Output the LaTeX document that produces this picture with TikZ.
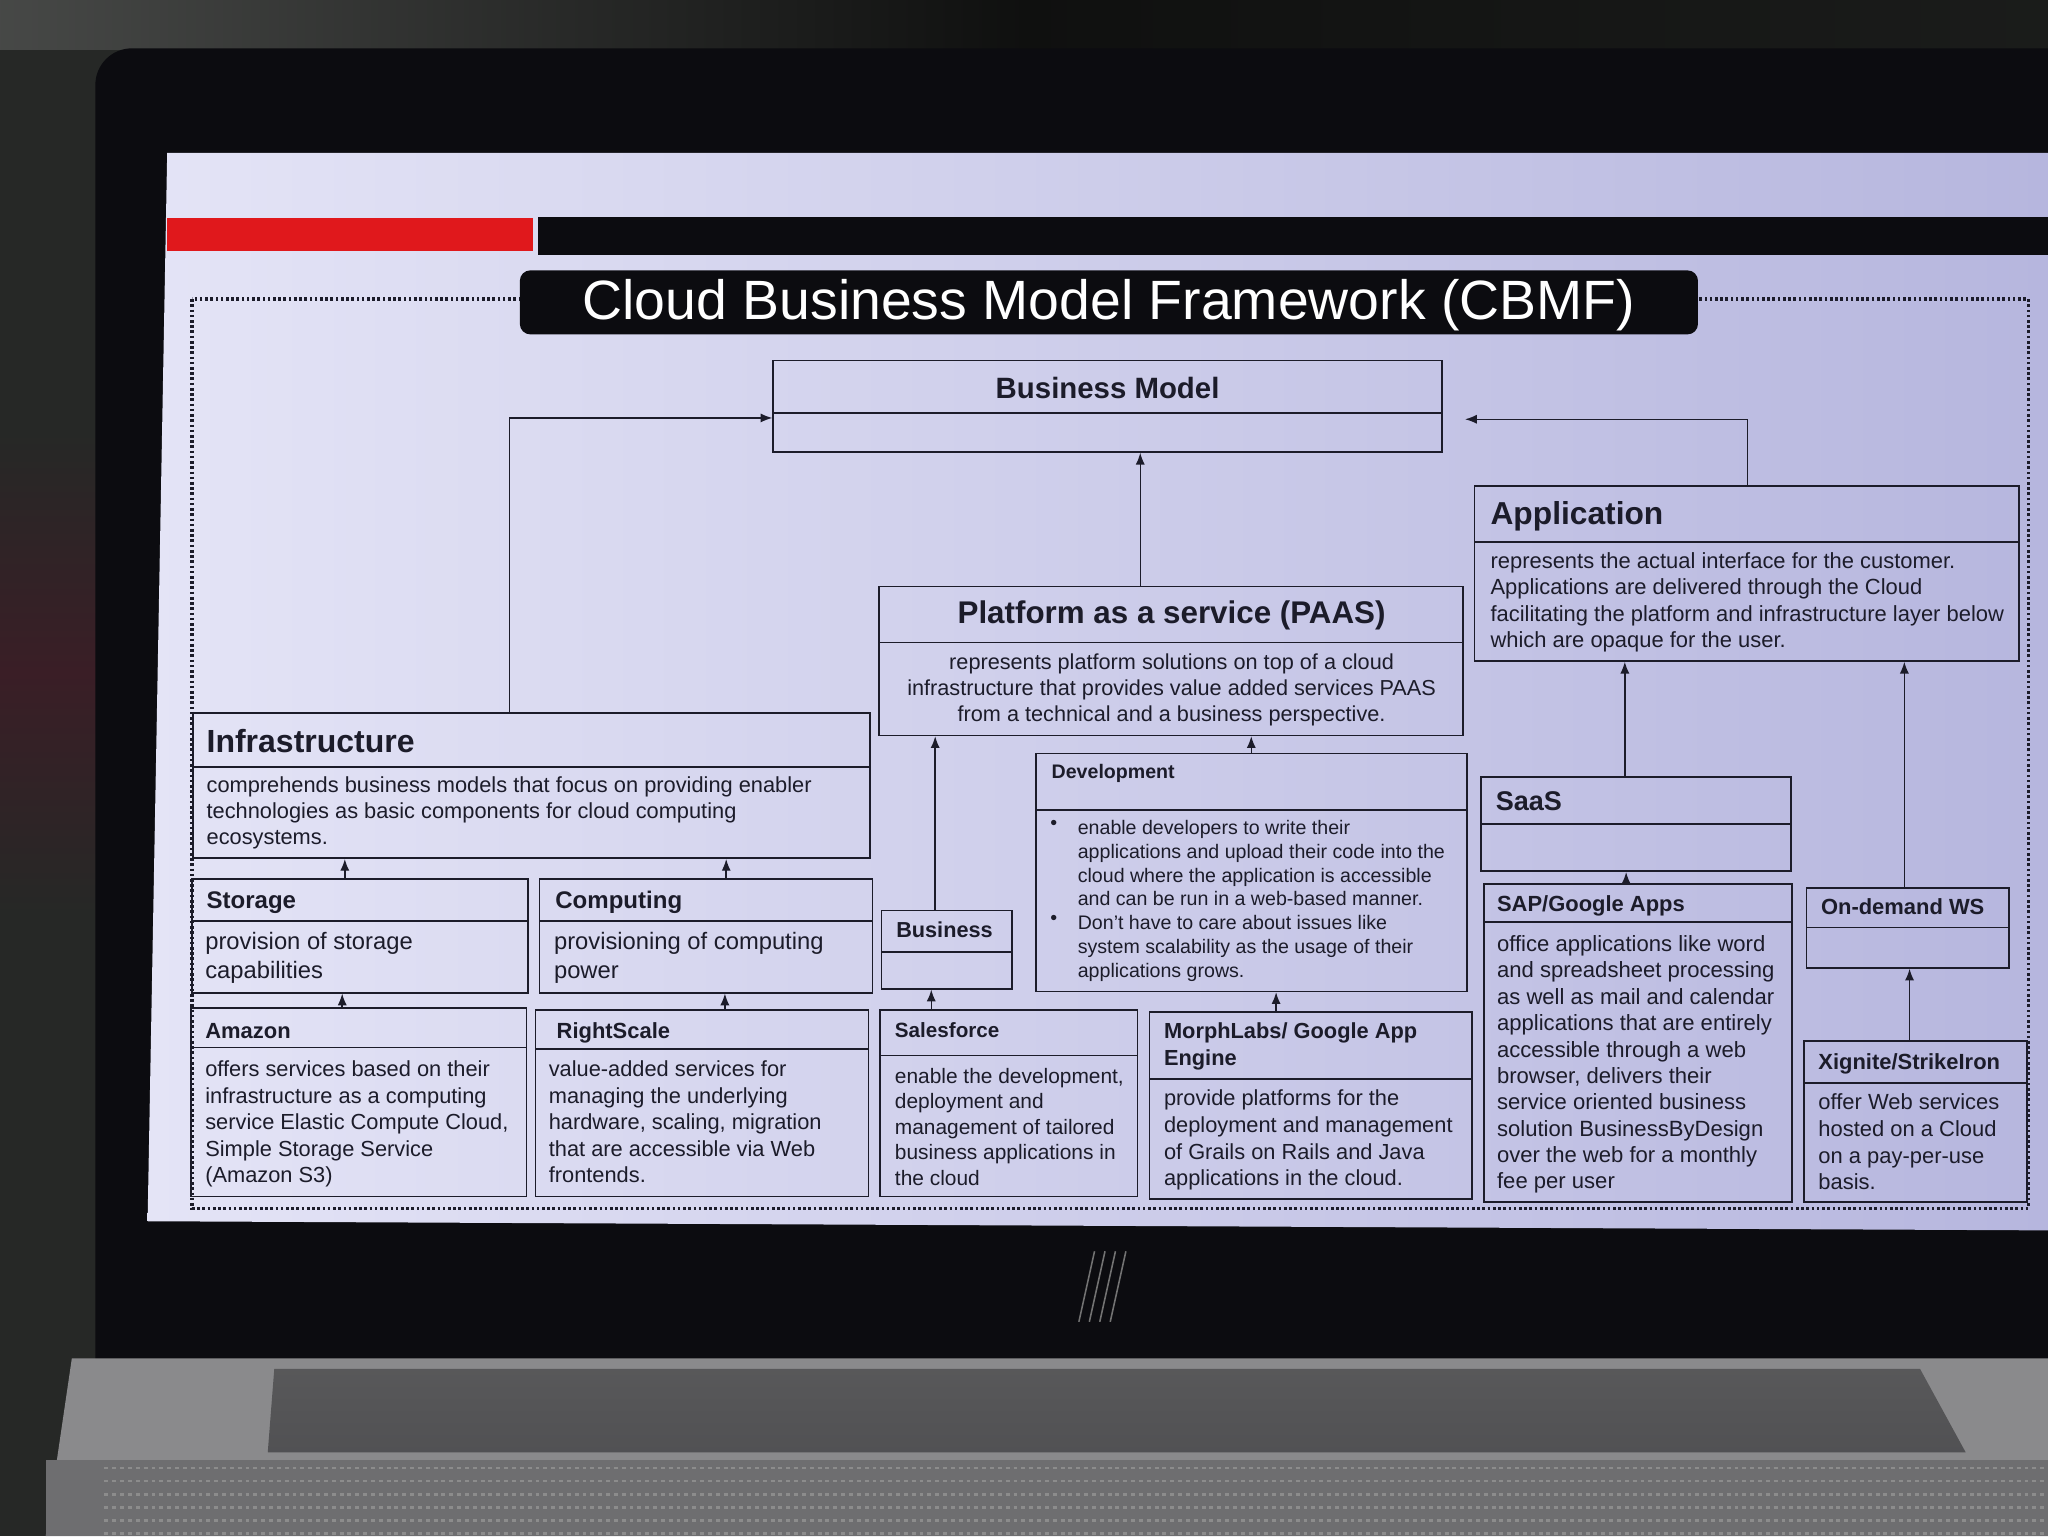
\documentclass[tikz,border=0pt]{standalone}
\usepackage{fontspec}
\setmainfont{Liberation Sans}
\usetikzlibrary{arrows.meta}

\definecolor{ink}{HTML}{1C1C2A}
\definecolor{bezel}{HTML}{0C0C10}
\definecolor{room}{HTML}{262826}
\definecolor{slidered}{HTML}{E0181C}
\definecolor{basegray}{HTML}{8A8A8C}
\definecolor{hingegray}{HTML}{6E6E70}

% box with a title part and a body part
\newcommand{\classbox}[6]{%
  \node[umlbox, minimum width={(#4-#2)*1pt}, minimum height={(#5-#3)*1pt}] (#1) at ({(#2+#4)/2},{(#3+#5)/2}) {};
  \draw[umlbox] (#2,#6) -- (#4,#6);
}

\begin{document}
\begin{tikzpicture}[x=1pt, y=-1pt,
    umlbox/.style={draw=ink, line width=1.3pt, inner sep=0pt},
    ttl/.style={font=\bfseries\fontsize{#1}{#1}\selectfont, text=ink, inner sep=0pt, anchor=base west, yshift={-0.36*#1*1pt}},
    ttlc/.style={ttl=#1, anchor=base},
    txt/.style args={#1/#2}{font=\fontsize{#1}{#2}\selectfont, text=ink, inner sep=0pt, align=left, anchor=north west, yshift={0.47*#1*1pt}},
    txtc/.style={txt=#1, align=center, anchor=north},
    uses/.style={-{Latex[length=9pt,width=7pt]}, draw=ink, line width=1.1pt}]
  \useasboundingbox (0,0) rectangle (1568,1176);

  % Laptop and room:
  \fill[room] (0,0) rectangle (1568,1176);
  \shade[left color=room!85!white, right color=room!70!black, middle color=black!60!room] (0,0) rectangle (1568,38);
  \shade[top color=room, bottom color=room, middle color={rgb,255:red,58;green,30;blue,38}] (0,330) rectangle (73,700);
  \fill[bezel, rounded corners=28pt] (73,37) rectangle (1640,1080);
  \fill[basegray] (55,1040) -- (1568,1040) -- (1568,1176) -- (35,1176) -- cycle;
  \shade[top color=hingegray!80!black, bottom color=hingegray!120!white] (210,1048) -- (1470,1048) -- (1505,1112) -- (205,1112) -- cycle;
  \fill[basegray!80!black] (35,1118) rectangle (1568,1176);
  \foreach \y in {1124,1134,...,1174}
    \draw[black!45, line width=2pt, dash pattern=on 3pt off 3pt] (80,\y) -- (1568,\y);
  \foreach \dx in {0,8,16,24}
    \draw[black!55, line width=1.2pt] (838+\dx,958) -- (826+\dx,1012);

  % Screen:
  \shade[left color={rgb,255:red,228;green,228;blue,246}, right color={rgb,255:red,182;green,182;blue,222}] (128,117) -- (1568,117) -- (1568,942) -- (113,935) -- cycle;
  \fill[slidered] (128,167) rectangle (408,192);
  \fill[bezel] (412,166) rectangle (1568,195);

  % Frame and title:
  \draw[ink, line width=2.5pt, dash pattern=on 2pt off 2pt] (147,229) rectangle (1553,925);
  \node[fill=bezel, rounded corners=8pt, minimum width=902pt, minimum height=49pt, inner sep=0pt] (title) at (849,231.5) {};
  \node[font=\fontsize{42.4}{42.4}\selectfont, text=white, inner sep=0pt] (titletext) at (849,234) {Cloud Business Model Framework (CBMF)};

  % Boxes:
  \classbox{bm}{592}{276}{1104}{346}{316}
  \classbox{app}{1129}{372}{1546}{506}{415}
  \classbox{paas}{673}{449}{1120}{563}{492}
  \classbox{infra}{148}{546}{666}{657}{587}
  \classbox{stor}{147}{673}{404}{760}{705}
  \classbox{comp}{413}{673}{668}{760}{705}
  \classbox{bus}{675}{697}{775}{757}{729}
  \classbox{dev}{793}{577}{1123}{759}{620}
  \classbox{saas}{1134}{595}{1371}{667}{631}
  \classbox{sap}{1136}{677}{1372}{920}{706}
  \classbox{odws}{1383}{680}{1538}{741}{710}
  \classbox{xig}{1381}{797}{1552}{920}{829}
  \classbox{amz}{146}{772}{403}{916}{802}
  \classbox{rs}{410}{773}{665}{916}{803}
  \classbox{sf}{674}{773}{871}{916}{808}
  \classbox{ml}{880}{775}{1127}{918}{826}

  % Titles:
  \node[ttlc=22.5] (bm-t) at (848,297) {Business Model};
  \node[ttl=24.3] (app-t) at (1141,393) {Application};
  \node[ttlc=24] (paas-t) at (897,469) {Platform as a service (PAAS)};
  \node[ttl=24.5] (infra-t) at (158,567) {Infrastructure};
  \node[ttl=18.4] (stor-t) at (158,689) {Storage};
  \node[ttl=18.4] (comp-t) at (425,689) {Computing};
  \node[ttl=16.6] (bus-t) at (686,712) {Business};
  \node[ttl=15] (dev-t) at (805,591) {Development};
  \node[ttl=20.7] (saas-t) at (1145,613) {SaaS};
  \node[ttl=16.8] (sap-t) at (1146,692) {SAP/Google Apps};
  \node[ttl=16.8] (odws-t) at (1394,694) {On-demand WS};
  \node[ttl=16.8] (xig-t) at (1392,813) {Xignite/StrikeIron};
  \node[ttl=16.8] (amz-t) at (157,789) {Amazon};
  \node[ttl=16.8] (rs-t) at (426,789) {RightScale};
  \node[ttl=15.8] (sf-t) at (685,789) {Salesforce};
  \node[txt=16.7/20, font=\bfseries\fontsize{16.7}{20}\selectfont] (ml-t) at (891,791) {MorphLabs/ Google App\\Engine};

  % Body texts:
  \node[txt=16.8/20] (app-b) at (1141,431) {represents the actual interface for the customer.\\Applications are delivered through the Cloud\\facilitating the platform and infrastructure layer below\\which are opaque for the user.};
  \node[txtc=16.6/20] (paas-b) at (897,508) {represents platform solutions on top of a cloud\\infrastructure that provides value added services PAAS\\from a technical and a business perspective.};
  \node[txt=16.7/20] (infra-b) at (158,602) {comprehends business models that focus on providing enabler\\technologies as basic components for cloud computing\\ecosystems.};
  \node[txt=18.2/22] (stor-b) at (157,722) {provision of storage\\capabilities};
  \node[txt=18.2/22] (comp-b) at (424,722) {provisioning of computing\\power};
  \node[txt=15/18.2] (dev-b) at (825,635) {enable developers to write their\\applications and upload their code into the\\cloud where the application is accessible\\and can be run in a web-based manner.\\Don't have to care about issues like\\system scalability as the usage of their\\applications grows.};
  \node[txt=15/18.2] (dev-p1) at (804,635) {\textbullet};
  \node[txt=15/18.2] (dev-p2) at (804,708) {\textbullet};
  \node[txt=16.9/20.2] (sap-b) at (1146,724) {office applications like word\\and spreadsheet processing\\as well as mail and calendar\\applications that are entirely\\accessible through a web\\browser, delivers their\\service oriented business\\solution BusinessByDesign\\over the web for a monthly\\fee per user};
  \node[txt=16.8/20.5] (xig-b) at (1392,845) {offer Web services\\hosted on a Cloud\\on a pay-per-use\\basis.};
  \node[txt=16.7/20.3] (amz-b) at (157,820) {offers services based on their\\infrastructure as a computing\\service Elastic Compute Cloud,\\Simple Storage Service\\(Amazon S3)};
  \node[txt=16.7/20.3] (rs-b) at (420,820) {value-added services for\\managing the underlying\\hardware, scaling, migration\\that are accessible via Web\\frontends.};
  \node[txt=16/19.5] (sf-b) at (685,825) {enable the development,\\deployment and\\management of tailored\\business applications in\\the cloud};
  \node[txt=16.7/20.5] (ml-b) at (891,842) {provide platforms for the\\deployment and management\\of Grails on Rails and Java\\applications in the cloud.};

  % Connectors:
  \draw[uses] (390,0 |- infra.north) |- (bm.west |- 0,320);
  \draw[uses, shorten >=17pt] (1338,0 |- app.north) |- (bm.east |- 0,321);
  \foreach \from/\to/\x in {paas/bm/873, stor/infra/264, comp/infra/556, amz/stor/262, rs/comp/555,
      bus/paas/716, dev/paas/958, sf/bus/713, ml/dev/977, saas/app/1244, odws/app/1458,
      sap/saas/1245, xig/odws/1462}
    \draw[uses] (\x,0 |- \from.north) -- (\x,0 |- \to.south);
\end{tikzpicture}
\end{document}
